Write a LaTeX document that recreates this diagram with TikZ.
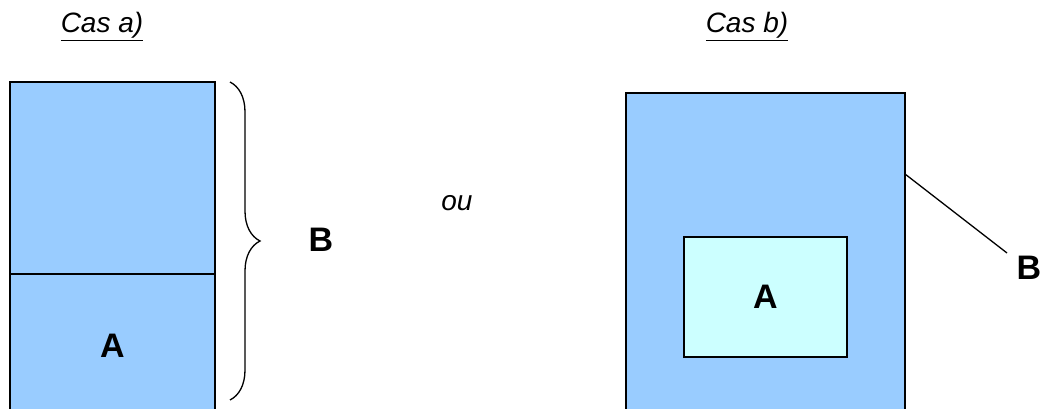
\documentclass[tikz,border=0pt]{standalone}
\usepackage{fontspec}
\setmainfont{Liberation Sans}
\usetikzlibrary{decorations.pathreplacing}
\definecolor{blocblue}{HTML}{99CCFF}
\definecolor{bloccyan}{HTML}{CCFFFF}

\begin{document}
\begin{tikzpicture}[x=1pt,y=-1pt,
  bloc/.style={draw,rectangle,line width=1.3pt,fill=blocblue,inner sep=0pt,
    font=\fontsize{34}{40}\selectfont\bfseries},
  titre/.style={anchor=base,font=\fontsize{28}{34}\selectfont\itshape},
  lettre/.style={font=\fontsize{34}{40}\selectfont\bfseries}]
\useasboundingbox (0,0) rectangle (1042,409);
\clip (0,0) rectangle (1042,409);

\node [titre] (ta) at(102,33){\underline{Cas a)}};
\node [titre] (tb) at(747,33){\underline{Cas b)}};
\node [titre] (ou) at(457,211){ou};

% cas a : A sous B
\node [bloc,minimum width=205pt,minimum height=192pt] (b1) at(112.5,178){};
\node [bloc,minimum width=205pt,minimum height=144pt] (a1) at(112.5,346){A};
\coordinate (h1) at(230,82);
\coordinate (h2) at(230,400);
\draw[line width=1.3pt,decorate,decoration={brace,amplitude=30pt}] (h1) -- (h2);
\node [lettre] (lb1) at(321,240){B};

% cas b : A dans B
\node [bloc,minimum width=279pt,minimum height=367pt] (b2) at(765.5,276.5){};
\node [bloc,fill=bloccyan,minimum width=163pt,minimum height=120pt] (a2) at(765.5,297){A};
\node [lettre] (lb2) at(1029,268){B};
\coordinate (p) at(905,174);
\coordinate (q) at(1007,253);
\draw[line width=1.3pt] (p) -- (q);

\end{tikzpicture}
\end{document}
